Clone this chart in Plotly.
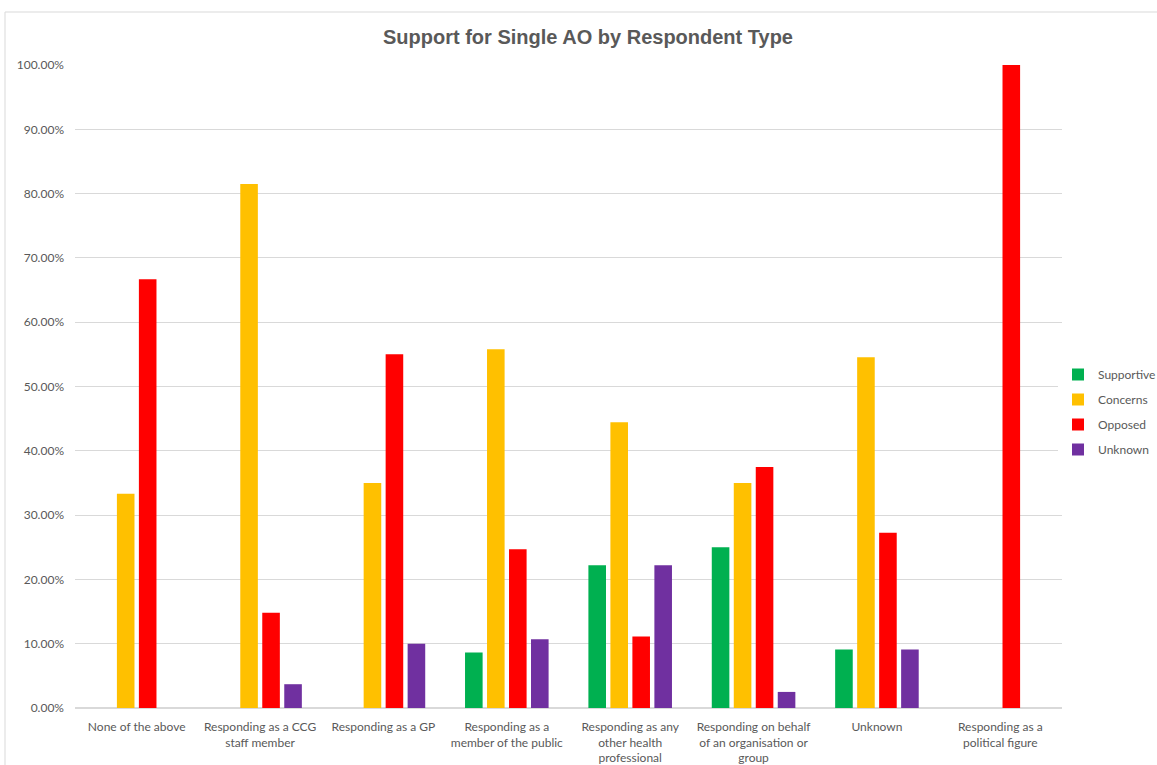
import plotly.graph_objects as go

categories = [
    "None of the above",
    "Responding as a CCG<br>staff member",
    "Responding as a GP",
    "Responding as a<br>member of the public",
    "Responding as any<br>other health<br>professional",
    "Responding on behalf<br>of an organisation or<br>group",
    "Unknown",
    "Responding as a<br>political figure",
]
supportive = [0, 0, 0, 0.0864, 0.2222, 0.25, 0.0909, 0]
concerns = [0.3333, 0.8148, 0.35, 0.5580, 0.4444, 0.35, 0.5455, 0]
opposed = [0.6667, 0.1481, 0.55, 0.2469, 0.1111, 0.375, 0.2727, 1.0]
unknown = [0, 0.0370, 0.10, 0.1070, 0.2222, 0.025, 0.0909, 0]

series = [
    ("Supportive", supportive, "#00B050"),
    ("Concerns", concerns, "#FFC000"),
    ("Opposed", opposed, "#FF0000"),
    ("Unknown", unknown, "#7030A0"),
]

fig = go.Figure()
for name, vals, color in series:
    fig.add_trace(go.Bar(name=name, x=categories, y=vals, marker_color=color,
                         marker_line_width=0, legendgroup=name))

W, H = 1157, 765
L, R, T, B = 75, 1062, 65, 708
pw, ph = R - L, B - T

fig.update_layout(
    width=W, height=H,
    margin=dict(l=L, r=W - R, t=T, b=H - B, autoexpand=False),
    paper_bgcolor="white", plot_bgcolor="white",
    font=dict(family="Lato, Carlito, sans-serif", size=12, color="#595959"),
    title=dict(text="<b>Support for Single AO by Respondent Type</b>",
               x=588 / W, xanchor="center", y=1 - 37 / H, yanchor="middle",
               font=dict(family="Liberation Sans, Arial, sans-serif", size=20,
                         color="#595959")),
    barmode="group", bargap=0.287, bargroupgap=0.2,
    legend=dict(x=(1058 - L) / pw, xanchor="left", y=(B - 412) / ph, yanchor="middle",
                font=dict(size=12, color="#595959"), tracegroupgap=6,
                itemwidth=30),
    xaxis=dict(showline=False, ticks="", tickfont=dict(size=12, color="#595959"),
               tickangle=0, ticklabelstandoff=10),
    yaxis=dict(range=[0, 1.0], tickformat=".2%", dtick=0.1, gridcolor="#D9D9D9",
               gridwidth=1, zeroline=True, zerolinecolor="#D9D9D9", showline=False,
               ticks="", tickfont=dict(size=12, color="#595959"), ticklabelstandoff=10),
    showlegend=True,
)
fig.add_shape(type="rect", xref="paper", yref="paper",
              x0=(5 - L) / pw, x1=(1160 - L) / pw,
              y0=(B - 770) / ph, y1=(B - 12) / ph,
              line=dict(color="#D9D9D9", width=1), fillcolor="rgba(0,0,0,0)", layer="below")

fig.write_html("out.html")
